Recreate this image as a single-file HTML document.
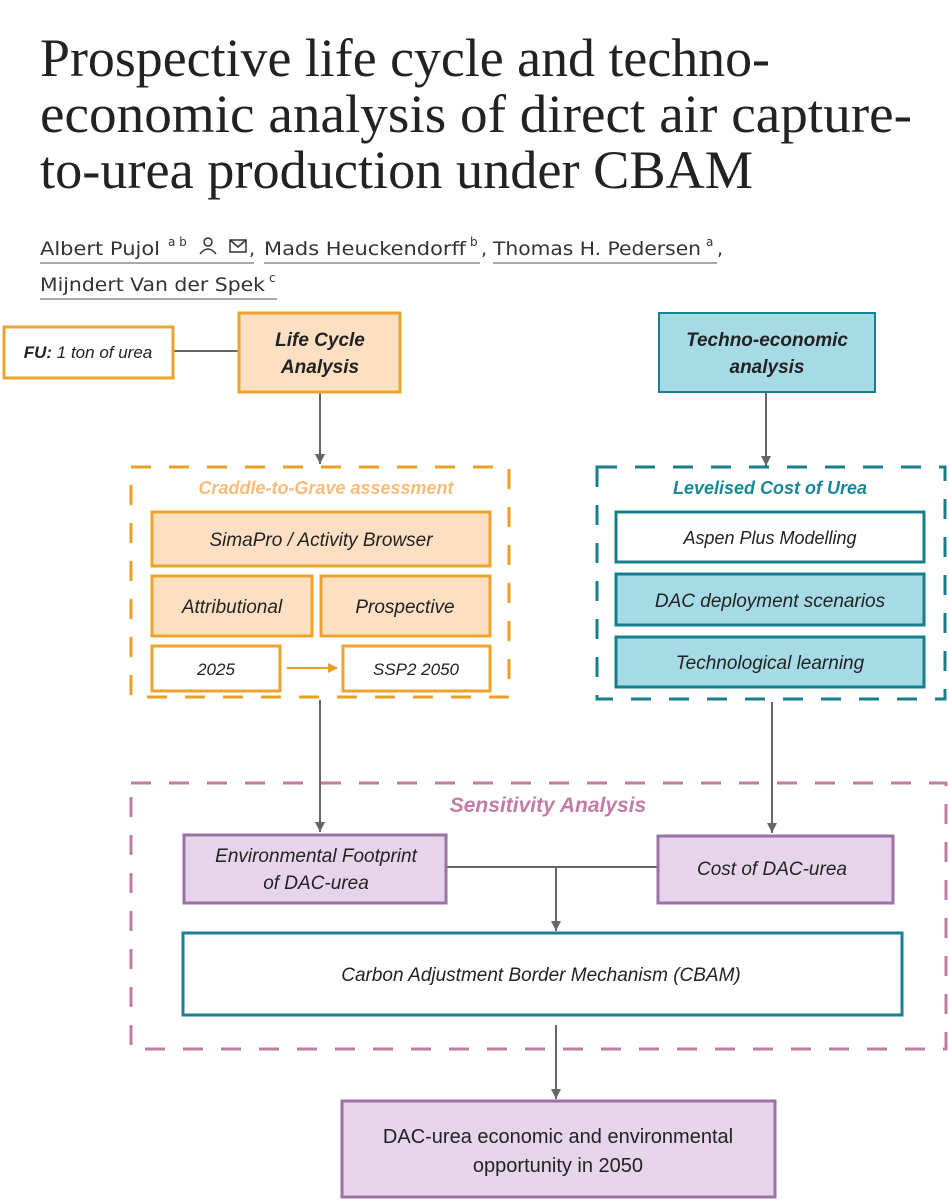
<!DOCTYPE html>
<html><head><meta charset="utf-8"><style>
html,body{margin:0;padding:0;background:#fff;}
svg{display:block;}
</style></head><body>
<svg width="949" height="1200" viewBox="0 0 949 1200" xmlns="http://www.w3.org/2000/svg">
<defs>
<marker id="ag" markerWidth="10" markerHeight="10" refX="10" refY="5" orient="auto" markerUnits="userSpaceOnUse" viewBox="0 0 10 10">
<path d="M0,0 L10,5 L0,10 z" fill="#666"/></marker>
<marker id="ao" markerWidth="10" markerHeight="10" refX="9" refY="5" orient="auto" markerUnits="userSpaceOnUse" viewBox="0 0 10 10">
<path d="M0,0 L10,5 L0,10 z" fill="#e8a020"/></marker>
</defs>
<g font-family="Liberation Serif, serif" fill="#222" font-size="54">
<text x="40" y="76" textLength="730" lengthAdjust="spacingAndGlyphs">Prospective life cycle and techno-</text>
<text x="40" y="132" textLength="872" lengthAdjust="spacingAndGlyphs">economic analysis of direct air capture-</text>
<text x="40" y="188" textLength="713" lengthAdjust="spacingAndGlyphs">to-urea production under CBAM</text>
</g>
<g font-family="DejaVu Sans, sans-serif" fill="#333" font-size="19">
<text x="40" y="255" textLength="120" lengthAdjust="spacingAndGlyphs">Albert Pujol</text>
<text x="168" y="246" font-size="12">a b</text>
<circle cx="208" cy="242" r="4" fill="none" stroke="#333" stroke-width="1.5"/>
<path d="M200 254 q8 -10 16 0" fill="none" stroke="#333" stroke-width="1.5"/>
<rect x="230" y="240" width="16" height="12" fill="none" stroke="#333" stroke-width="1.5"/>
<path d="M230 240 l8 7 l8 -7" fill="none" stroke="#333" stroke-width="1.5"/>
<text x="249" y="255">,</text>
<line x1="40" y1="263" x2="254" y2="263" stroke="#555"/>
<text x="264" y="255" textLength="202" lengthAdjust="spacingAndGlyphs">Mads Heuckendorff</text>
<text x="470" y="246" font-size="12">b</text>
<text x="481" y="255">,</text>
<line x1="264" y1="263" x2="480" y2="263" stroke="#555"/>
<text x="493" y="255" textLength="208" lengthAdjust="spacingAndGlyphs">Thomas H. Pedersen</text>
<text x="706" y="246" font-size="12">a</text>
<text x="717" y="255">,</text>
<line x1="493" y1="263" x2="717" y2="263" stroke="#555"/>
<text x="40" y="291" textLength="225" lengthAdjust="spacingAndGlyphs">Mijndert Van der Spek</text>
<text x="269" y="282" font-size="12">c</text>
<line x1="40" y1="299" x2="277" y2="299" stroke="#555"/>
</g>

<g font-family="Liberation Sans, sans-serif" font-style="italic" text-anchor="middle" fill="#222">
<line x1="173" y1="351" x2="238" y2="351" stroke="#666" stroke-width="2"/>
<line x1="320" y1="393" x2="320" y2="464" stroke="#666" stroke-width="2" marker-end="url(#ag)"/>
<line x1="766" y1="393" x2="766" y2="466" stroke="#666" stroke-width="2" marker-end="url(#ag)"/>
<line x1="320" y1="700" x2="320" y2="832" stroke="#666" stroke-width="2" marker-end="url(#ag)"/>
<line x1="772" y1="702" x2="772" y2="833" stroke="#666" stroke-width="2" marker-end="url(#ag)"/>
<line x1="446" y1="867" x2="657" y2="867" stroke="#666" stroke-width="2"/>
<line x1="556" y1="867" x2="556" y2="931" stroke="#666" stroke-width="2" marker-end="url(#ag)"/>
<line x1="556" y1="1025" x2="556" y2="1099" stroke="#666" stroke-width="2" marker-end="url(#ag)"/>

<rect x="4" y="327" width="169" height="51" fill="#fff" stroke="#eea32c" stroke-width="3"/>
<text x="88" y="358" font-size="17"><tspan font-weight="bold">FU:</tspan> 1 ton of urea</text>
<rect x="239" y="313" width="161" height="79" fill="#fde0c4" stroke="#eea32c" stroke-width="3"/>
<text x="320" y="346" font-size="19" font-weight="bold">Life Cycle</text>
<text x="320" y="373" font-size="19" font-weight="bold">Analysis</text>

<rect x="131" y="467" width="378" height="230" fill="none" stroke="#e8a020" stroke-width="3" stroke-dasharray="20,18"/>
<text x="326" y="494" font-size="18" font-weight="bold" fill="#f6bc7c">Craddle-to-Grave assessment</text>
<rect x="152" y="512" width="338" height="54" fill="#fde0c4" stroke="#eea32c" stroke-width="3"/>
<text x="321" y="546" font-size="19">SimaPro / Activity Browser</text>
<rect x="152" y="576" width="160" height="60" fill="#fde0c4" stroke="#eea32c" stroke-width="3"/>
<text x="232" y="613" font-size="19">Attributional</text>
<rect x="321" y="576" width="169" height="60" fill="#fde0c4" stroke="#eea32c" stroke-width="3"/>
<text x="405" y="613" font-size="19">Prospective</text>
<rect x="152" y="646" width="128" height="45" fill="#fff" stroke="#eea32c" stroke-width="3"/>
<text x="216" y="675" font-size="17">2025</text>
<rect x="343" y="646" width="147" height="45" fill="#fff" stroke="#eea32c" stroke-width="3"/>
<text x="416" y="675" font-size="17">SSP2 2050</text>
<line x1="287" y1="668" x2="337" y2="668" stroke="#e8a020" stroke-width="2" marker-end="url(#ao)"/>

<rect x="659" y="313" width="216" height="79" fill="#a6dbe5" stroke="#1a7f8e" stroke-width="2"/>
<text x="767" y="346" font-size="19" font-weight="bold">Techno-economic</text>
<text x="767" y="373" font-size="19" font-weight="bold">analysis</text>
<rect x="597" y="467" width="348" height="232" fill="none" stroke="#177e8c" stroke-width="3" stroke-dasharray="20,18"/>
<text x="770" y="494" font-size="18" font-weight="bold" fill="#1a8797">Levelised Cost of Urea</text>
<rect x="616" y="512" width="308" height="50" fill="#fff" stroke="#177e8c" stroke-width="3"/>
<text x="770" y="544" font-size="18">Aspen Plus Modelling</text>
<rect x="616" y="574" width="308" height="51" fill="#a6dbe5" stroke="#177e8c" stroke-width="3"/>
<text x="770" y="607" font-size="19">DAC deployment scenarios</text>
<rect x="616" y="637" width="308" height="50" fill="#a6dbe5" stroke="#177e8c" stroke-width="3"/>
<text x="770" y="669" font-size="19">Technological learning</text>

<rect x="131" y="783" width="815" height="266" fill="none" stroke="#c27ca3" stroke-width="3" stroke-dasharray="20,18"/>
<text x="548" y="812" font-size="21" font-weight="bold" fill="#c27ca8">Sensitivity Analysis</text>
<rect x="184" y="835" width="262" height="68" fill="#e6d4ea" stroke="#9a72a4" stroke-width="3"/>
<text x="316" y="862" font-size="19">Environmental Footprint</text>
<text x="316" y="889" font-size="19">of DAC-urea</text>
<rect x="658" y="836" width="235" height="67" fill="#e6d4ea" stroke="#9a72a4" stroke-width="3"/>
<text x="772" y="875" font-size="19">Cost of DAC-urea</text>
<rect x="183" y="933" width="719" height="82" fill="#fff" stroke="#1a7f8e" stroke-width="3"/>
<text x="541" y="981" font-size="19">Carbon Adjustment Border Mechanism (CBAM)</text>

<rect x="342" y="1101" width="433" height="96" fill="#e6d4ea" stroke="#9a72a4" stroke-width="3"/>
<text x="558" y="1143" font-size="20" font-style="normal">DAC-urea economic and environmental</text>
<text x="558" y="1172" font-size="20" font-style="normal">opportunity in 2050</text>
</g>
</svg>
</body></html>
